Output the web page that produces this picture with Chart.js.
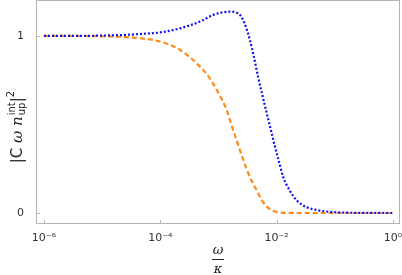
<!DOCTYPE html>
<html lang="en">
<head>
    <meta charset="UTF-8">
    <title>|C ω n|²</title>
    <script src="https://cdn.jsdelivr.net/npm/chart.js"></script>
    <style>
        html, body { margin: 0; padding: 0; background: #fff; }
        .chart-container { width: 402px; height: 275px; position: relative; }
    </style>
</head>
<body>
    <div class="chart-container">
        <canvas id="respChart" width="402" height="275"></canvas>
    </div>

    <script>
        // Datos (exponentes de ω/κ en base 10)
        const blueExp = [-6, -5.5, -5, -4.6, -4.35, -4.0, -3.66, -3.32, -3.09, -2.95, -2.775, -2.68, -2.63, -2.55, -2.46, -2.39, -2.32, -2.245, -2.17, -2.1, -2.03, -1.96, -1.89, -1.78, -1.66, -1.5, -1.31, -1.1, -0.91, -0.5, 0];
        const blueVals = [1.0, 1.0, 1.002, 1.006, 1.011, 1.02, 1.043, 1.081, 1.119, 1.132, 1.138, 1.13, 1.119, 1.07, 0.977, 0.88, 0.77, 0.665, 0.563, 0.47, 0.375, 0.29, 0.205, 0.13, 0.073, 0.035, 0.017, 0.007, 0.003, 0.001, 0];

        const orangeExp = [-6, -5.5, -5, -4.81, -4.6, -4.35, -4.0, -3.66, -3.32, -3.17, -3.03, -2.86, -2.78, -2.69, -2.6, -2.51, -2.42, -2.33, -2.25, -2.17, -2.08, -2.0, -1.8, -1.5, -1, 0];
        const orangeVals = [1.0, 1.0, 0.998, 0.996, 0.993, 0.987, 0.968, 0.921, 0.827, 0.77, 0.695, 0.582, 0.5, 0.412, 0.325, 0.243, 0.175, 0.12, 0.07, 0.036, 0.015, 0.006, 0.001, 0, 0, 0];

        const xTicks = [1e-6, 1e-4, 1e-2, 1];
        const xTickLabels = ['10⁻⁶', '10⁻⁴', '10⁻²', '10⁰'];
        const yTicks = [0, 1];

        const toPoints = (exps, vals) => exps.map((e, i) => ({ x: Math.pow(10, e), y: vals[i] }));

        // Marco, marcas hacia dentro y títulos de los ejes
        const framePlugin = {
            id: 'frame',
            afterDraw(chart) {
                const { ctx, chartArea: a, scales } = chart;
                ctx.save();
                ctx.strokeStyle = '#b4b4b4';
                ctx.lineWidth = 1;
                ctx.strokeRect(a.left + 0.5, a.top + 0.5, a.right - a.left - 1, a.bottom - a.top - 1);
                ctx.beginPath();
                xTicks.forEach(v => {
                    const px = Math.round(scales.x.getPixelForValue(v)) + 0.5;
                    ctx.moveTo(px, a.bottom);
                    ctx.lineTo(px, a.bottom - 4);
                });
                yTicks.forEach(v => {
                    const py = Math.round(scales.y.getPixelForValue(v)) + 0.5;
                    ctx.moveTo(a.left, py);
                    ctx.lineTo(a.left + 4, py);
                });
                ctx.stroke();

                // título eje x: fracción ω / κ
                ctx.fillStyle = '#222';
                ctx.textAlign = 'center';
                ctx.textBaseline = 'middle';
                ctx.font = 'italic 13px "DejaVu Serif"';
                ctx.fillText('ω', 218, 251);
                ctx.fillText('κ', 218, 270);
                ctx.strokeStyle = '#222';
                ctx.beginPath();
                ctx.moveTo(212, 259.5);
                ctx.lineTo(224, 259.5);
                ctx.stroke();

                // título eje y: |C ω n_up^int|²
                ctx.translate(17, 127);
                ctx.rotate(-Math.PI / 2);
                ctx.textAlign = 'left';
                ctx.textBaseline = 'alphabetic';
                const parts = [
                    { t: '|C ', f: '15px "DejaVu Sans"' },
                    { t: 'ω n', f: 'italic 15px "DejaVu Serif"' }
                ];
                let w = 0;
                parts.forEach(p => { ctx.font = p.f; w += ctx.measureText(p.t).width; });
                ctx.font = '10px "DejaVu Sans"'; const wInt = ctx.measureText('int').width;
                ctx.font = '15px "DejaVu Sans"'; const wBar = ctx.measureText('|').width;
                ctx.font = '10px "DejaVu Sans"'; const w2 = ctx.measureText('2').width;
                const total = w + wInt + 1 + wBar + w2;
                let x = -total / 2;
                const base = 5;
                parts.forEach(p => {
                    ctx.font = p.f;
                    ctx.fillText(p.t, x, base);
                    x += ctx.measureText(p.t).width;
                });
                ctx.font = '10px "DejaVu Sans"';
                ctx.fillText('int', x + 1, base - 7);
                ctx.fillText('up', x + 1, base + 3);
                x += wInt + 1;
                ctx.font = '15px "DejaVu Sans"';
                ctx.fillText('|', x, base);
                x += wBar;
                ctx.font = '10px "DejaVu Sans"';
                ctx.fillText('2', x, base - 8);
                ctx.restore();
            }
        };

        const ctx = document.getElementById('respChart').getContext('2d');
        const respChart = new Chart(ctx, {
            type: 'line',
            data: {
                datasets: [{
                    label: 'azul',
                    data: toPoints(blueExp, blueVals),
                    borderColor: '#1010f0',
                    borderWidth: 2.2,
                    borderDash: [2, 2],
                    pointRadius: 0,
                    cubicInterpolationMode: 'monotone',
                    fill: false
                }, {
                    label: 'naranja',
                    data: toPoints(orangeExp, orangeVals),
                    borderColor: '#ff8c1a',
                    borderWidth: 2.2,
                    borderDash: [5, 3],
                    pointRadius: 0,
                    cubicInterpolationMode: 'monotone',
                    fill: false
                }]
            },
            options: {
                responsive: false,
                animation: false,
                maintainAspectRatio: false,
                layout: { padding: { top: 0, right: 2, left: 0, bottom: 0 } },
                plugins: {
                    legend: { display: false },
                    tooltip: { enabled: false }
                },
                scales: {
                    x: {
                        type: 'logarithmic',
                        min: Math.pow(10, -6.137),
                        max: Math.pow(10, 0.12),
                        afterBuildTicks: s => { s.ticks = xTicks.map(v => ({ value: v })); },
                        afterFit: s => { s.height = 51; s.paddingLeft = 0; s.paddingRight = 0; },
                        ticks: {
                            autoSkip: false,
                            maxRotation: 0,
                            padding: 0,
                            color: '#333',
                            font: { family: 'DejaVu Sans', size: 11 },
                            callback: (v) => xTickLabels[xTicks.indexOf(v)] ?? ''
                        },
                        grid: { display: false },
                        border: { display: false }
                    },
                    y: {
                        min: -0.062,
                        max: 1.203,
                        afterBuildTicks: s => { s.ticks = yTicks.map(v => ({ value: v })); },
                        afterFit: s => { s.width = 36; s.paddingTop = 0; s.paddingBottom = 0; },
                        ticks: {
                            padding: 4,
                            color: '#333',
                            font: { family: 'DejaVu Sans', size: 11 }
                        },
                        grid: { display: false },
                        border: { display: false }
                    }
                }
            },
            plugins: [framePlugin]
        });
    </script>
</body>
</html>
